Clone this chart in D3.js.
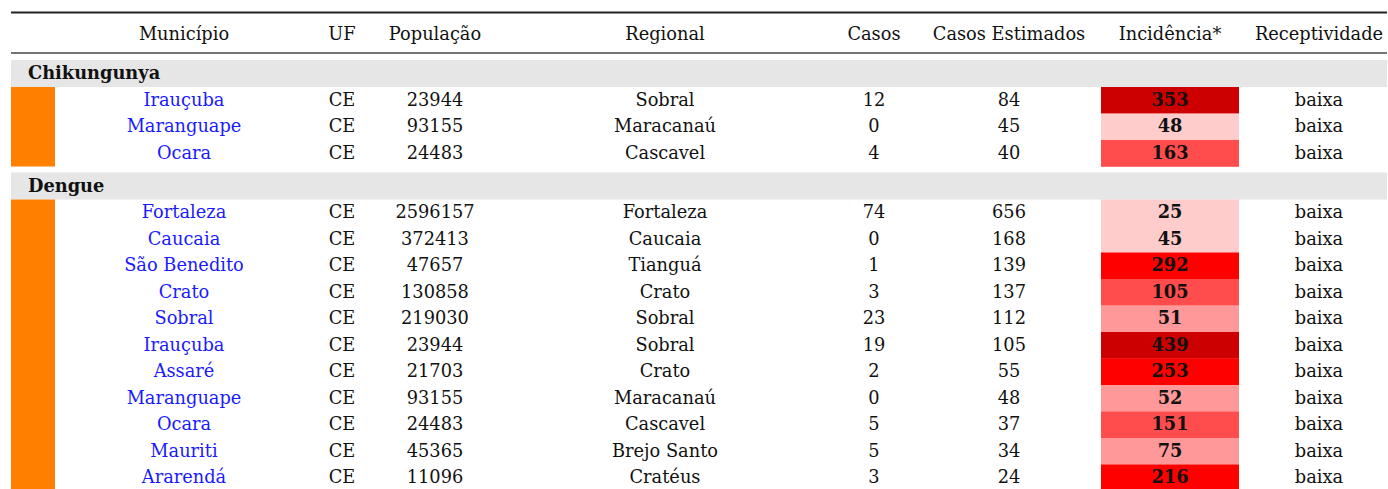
<!DOCTYPE html>
<html>
<head>
<meta charset="utf-8">
<script src="https://cdn.jsdelivr.net/npm/d3@7"></script>
<style>
  body { margin: 0; background: #fff; }
  svg text { font-family: "DejaVu Serif", serif; font-size: 17.8px; }
</style>
</head>
<body>
<svg id="chart" width="1388" height="489"></svg>
<script>
/********** Dados **********/
var colunas = ["Município", "UF", "População", "Regional", "Casos", "Casos Estimados", "Incidência*", "Receptividade"];
var grupos = ["Chikungunya", "Dengue"];

var grupo = [0, 0, 0, 1, 1, 1, 1, 1, 1, 1, 1, 1, 1, 1];
var municipio = ["Irauçuba", "Maranguape", "Ocara", "Fortaleza", "Caucaia", "São Benedito", "Crato", "Sobral", "Irauçuba", "Assaré", "Maranguape", "Ocara", "Mauriti", "Ararendá"];
var uf = ["CE", "CE", "CE", "CE", "CE", "CE", "CE", "CE", "CE", "CE", "CE", "CE", "CE", "CE"];
var populacao = [23944, 93155, 24483, 2596157, 372413, 47657, 130858, 219030, 23944, 21703, 93155, 24483, 45365, 11096];
var regional = ["Sobral", "Maracanaú", "Cascavel", "Fortaleza", "Caucaia", "Tianguá", "Crato", "Sobral", "Sobral", "Crato", "Maracanaú", "Cascavel", "Brejo Santo", "Cratéus"];
var casos = [12, 0, 4, 74, 0, 1, 3, 23, 19, 2, 0, 5, 5, 3];
var casosEstimados = [84, 45, 40, 656, 168, 139, 137, 112, 105, 55, 48, 37, 34, 24];
var incidencia = [353, 48, 163, 25, 45, 292, 105, 51, 439, 253, 52, 151, 75, 216];
var receptividade = ["baixa", "baixa", "baixa", "baixa", "baixa", "baixa", "baixa", "baixa", "baixa", "baixa", "baixa", "baixa", "baixa", "baixa"];

var faixas = [50, 100, 200, 300];
var coresFaixas = ["#ffcccc", "#ff9999", "#ff4d4d", "#ff0000", "#cc0000"];

/********** Layout **********/
var svg = d3.select("#chart"),
    left = 11, right = 1387,
    rowH = 26.5;

var xCol = d3.scaleOrdinal()
    .domain(colunas)
    .range([184, 342, 435, 665, 874, 1009, 1170, 1319]);

var cor = d3.scaleThreshold().domain(faixas).range(coresFaixas);

// posicoes verticais: faixa cinza do grupo e depois as linhas
var yTop = [], bandas = [];
var y = 60;
grupos.forEach(function(g, gi) {
    bandas.push({nome: g, y: y});
    y += rowH + 0.5;
    var ini = y;
    grupo.forEach(function(gr, i) {
        if (gr === gi) { yTop[i] = y; y += rowH; }
    });
    bandas[gi].ini = ini;
    bandas[gi].fim = y;
    y += 6;
});

// regras do cabecalho
svg.append("line").attr("x1", left).attr("x2", right).attr("y1", 12.5).attr("y2", 12.5)
    .attr("stroke", "#222").attr("stroke-width", 2);
svg.append("line").attr("x1", left).attr("x2", right).attr("y1", 53).attr("y2", 53)
    .attr("stroke", "#444").attr("stroke-width", 1.3);

svg.selectAll("text.header")
    .data(colunas)
    .enter().append("text")
    .attr("class", "header")
    .attr("x", function(d) { return xCol(d); })
    .attr("y", 40)
    .attr("text-anchor", "middle")
    .attr("fill", "#111")
    .text(function(d) { return d; });

// bandas dos grupos
var bg = svg.selectAll("g.banda").data(bandas).enter().append("g").attr("class", "banda");
bg.append("rect")
    .attr("x", left).attr("width", right - left)
    .attr("y", function(d) { return d.y; })
    .attr("height", rowH + 0.5)
    .attr("fill", "#e6e6e6");
bg.append("text")
    .attr("x", 28)
    .attr("y", function(d) { return d.y + 19; })
    .attr("font-weight", "bold")
    .attr("fill", "#111")
    .text(function(d) { return d.nome; });
bg.append("rect")
    .attr("x", left).attr("width", 44)
    .attr("y", function(d) { return d.ini; })
    .attr("height", function(d) { return d.fim - d.ini; })
    .attr("fill", "#ff8000");

// linhas
var linhas = svg.selectAll("g.linha")
    .data(municipio.map(function(m, i) { return i; }))
    .enter().append("g")
    .attr("class", "linha")
    .attr("transform", function(i) { return "translate(0," + yTop[i] + ")"; });

linhas.append("rect")
    .attr("x", 1101).attr("width", 138)
    .attr("y", 0).attr("height", rowH + 0.3)
    .attr("fill", function(i) { return cor(incidencia[i]); });

var valores = [municipio, uf, populacao, regional, casos, casosEstimados, incidencia, receptividade];
colunas.forEach(function(c, ci) {
    linhas.append("text")
        .attr("x", xCol(c))
        .attr("y", 18.5)
        .attr("text-anchor", "middle")
        .attr("fill", ci === 0 ? "#1a1aff" : "#111")
        .attr("font-weight", ci === 6 ? "bold" : null)
        .text(function(i) { return valores[ci][i]; });
});
</script>
</body>
</html>
